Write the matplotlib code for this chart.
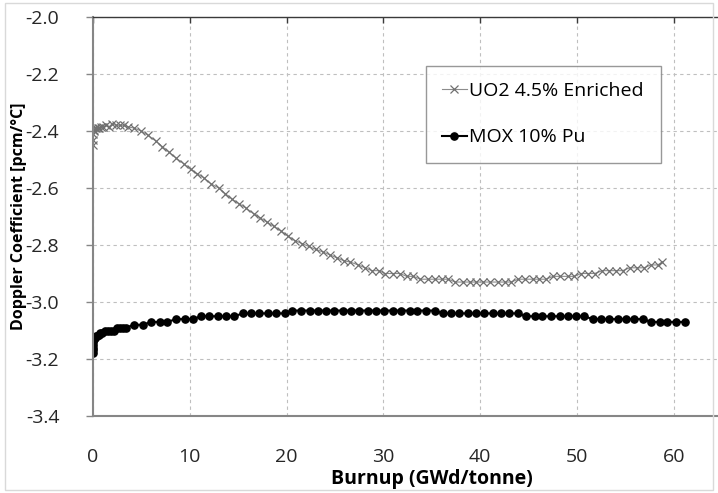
import matplotlib
matplotlib.use("Agg")
import matplotlib.pyplot as plt
from matplotlib.patches import Rectangle

# burnup (GWd/tonne) and Doppler coefficient (pcm/C)
uo2_burnup = [0, 0.02, 0.05, 0.1, 0.15, 0.25, 0.35, 0.5, 0.7, 0.9, 1.1, 1.4, 1.7, 2.0,
              2.4, 2.8, 3.2, 3.6, 4.3, 5.0, 5.7, 6.5, 7.2, 7.9, 8.6, 9.4, 10.1, 10.8,
              11.5, 12.2, 13.0, 13.7, 14.4, 15.1, 15.8, 16.6, 17.3, 18.0, 18.7, 19.4,
              20.2, 20.9, 21.6, 22.3, 23.0, 23.8, 24.5, 25.2, 25.9, 26.6, 27.4, 28.1,
              28.8, 29.5, 30.2, 31.0, 31.7, 32.4, 33.1, 33.8, 34.6, 35.3, 36.0, 36.7,
              37.4, 38.2, 38.9, 39.6, 40.3, 41.0, 41.8, 42.5, 43.2, 43.9, 44.6, 45.4,
              46.1, 46.8, 47.5, 48.2, 49.0, 49.7, 50.4, 51.1, 51.8, 52.6, 53.3, 54.0,
              54.7, 55.4, 56.2, 56.9, 57.6, 58.3, 58.8]
uo2_doppler = [-2.45, -2.43, -2.41, -2.40, -2.395, -2.39, -2.39, -2.39, -2.39, -2.385,
               -2.385, -2.38, -2.385, -2.375, -2.38, -2.38, -2.38, -2.385, -2.39, -2.40,
               -2.415, -2.435, -2.455, -2.475, -2.495, -2.515, -2.535, -2.55, -2.565,
               -2.585, -2.60, -2.62, -2.64, -2.655, -2.67, -2.69, -2.705, -2.72, -2.735,
               -2.75, -2.77, -2.785, -2.795, -2.805, -2.815, -2.825, -2.835, -2.845,
               -2.855, -2.86, -2.87, -2.88, -2.89, -2.89, -2.90, -2.90, -2.90, -2.91,
               -2.91, -2.92, -2.92, -2.92, -2.92, -2.92, -2.93, -2.93, -2.93, -2.93,
               -2.93, -2.93, -2.93, -2.93, -2.93, -2.92, -2.92, -2.92, -2.92, -2.92,
               -2.91, -2.91, -2.91, -2.91, -2.90, -2.90, -2.90, -2.89, -2.89, -2.89,
               -2.89, -2.88, -2.88, -2.88, -2.87, -2.87, -2.86]

mox_burnup = [0, 0.01, 0.03, 0.05, 0.08, 0.12, 0.2, 0.3, 0.45, 0.6, 0.8, 1.0, 1.3, 1.6,
              1.9, 2.2, 2.5, 2.8, 3.1, 3.4, 4.3, 5.2, 6.0, 6.9, 7.7, 8.6, 9.5, 10.3,
              11.2, 12.0, 12.9, 13.8, 14.6, 15.5, 16.3, 17.2, 18.1, 18.9, 19.8, 20.6,
              21.5, 22.4, 23.2, 24.1, 24.9, 25.8, 26.7, 27.5, 28.4, 29.2, 30.1, 31.0,
              31.8, 32.7, 33.5, 34.4, 35.3, 36.1, 37.0, 37.8, 38.7, 39.6, 40.4, 41.3,
              42.1, 43.0, 43.9, 44.7, 45.6, 46.4, 47.3, 48.2, 49.0, 49.9, 50.7, 51.6,
              52.5, 53.3, 54.2, 55.0, 55.9, 56.8, 57.6, 58.5, 59.3, 60.2, 61.1]
mox_doppler = [-3.18, -3.17, -3.16, -3.15, -3.14, -3.13, -3.125, -3.12, -3.12, -3.115,
               -3.11, -3.11, -3.10, -3.10, -3.10, -3.10, -3.09, -3.09, -3.09, -3.09,
               -3.08, -3.08, -3.07, -3.07, -3.07, -3.06, -3.06, -3.06, -3.05, -3.05,
               -3.05, -3.05, -3.05, -3.04, -3.04, -3.04, -3.04, -3.04, -3.04, -3.03,
               -3.03, -3.03, -3.03, -3.03, -3.03, -3.03, -3.03, -3.03, -3.03, -3.03,
               -3.03, -3.03, -3.03, -3.03, -3.03, -3.03, -3.03, -3.04, -3.04, -3.04,
               -3.04, -3.04, -3.04, -3.04, -3.04, -3.04, -3.04, -3.05, -3.05, -3.05,
               -3.05, -3.05, -3.05, -3.05, -3.05, -3.06, -3.06, -3.06, -3.06, -3.06,
               -3.06, -3.06, -3.07, -3.07, -3.07, -3.07, -3.07]

x_ticks = [0, 10, 20, 30, 40, 50, 60, 70]
x_labels = ['0', '10', '20', '30', '40', '50', '60', '']  # 70 falls off the picture
y_ticks = [-3.4, -3.2, -3.0, -2.8, -2.6, -2.4, -2.2, -2.0]

plt.rcParams['font.family'] = ['Open Sans', 'DejaVu Sans']

fig = plt.figure(figsize=(7.18, 4.93), dpi=100)
# light border of the chart area
fig.patches.append(Rectangle((5 / 718, 3 / 493), 708 / 718, 487 / 493,
                             transform=fig.transFigure, fill=False,
                             edgecolor='#d9d9d9', linewidth=1))

# plot area runs off the right edge like in the original picture
ax = fig.add_axes([92.7 / 718, 77 / 493, 678.3 / 718, 399 / 493])

ax.plot(uo2_burnup, uo2_doppler, color='#8c8c8c', linewidth=0.8, marker='x',
        markersize=6, markeredgewidth=0.9, markeredgecolor='#707070',
        label='UO2 4.5% Enriched')
ax.plot(mox_burnup, mox_doppler, color='black', linewidth=1.5, marker='o',
        markersize=5.2, label='MOX 10% Pu')

ax.set_xlim(0, 70)
ax.set_ylim(-3.4, -2.0)
ax.set_xticks(x_ticks)
ax.set_xticklabels(x_labels)
ax.set_yticks(y_ticks)
ax.set_yticklabels(['%.1f' % v for v in y_ticks])

ax.grid(True, color='#bfbfbf', linestyle=(0, (3, 3)), linewidth=0.8)
ax.set_axisbelow(True)

for s in ['left', 'bottom']:
    ax.spines[s].set_color('#868686')
    ax.spines[s].set_linewidth(1.5)
ax.spines['top'].set_color('#3a3a3a')
ax.spines['top'].set_linewidth(1)
ax.spines['right'].set_visible(False)

ax.tick_params(axis='y', length=5, width=1, color='#868686', labelsize=14,
               pad=19, labelcolor='#262626')
ax.tick_params(axis='x', top=True, direction='in', length=4, width=1,
               color='#3a3a3a', labelsize=14, pad=23, labelcolor='#262626')
for t in ax.xaxis.get_major_ticks():
    t.tick1line.set_visible(False)

ax.set_xlabel('Burnup (GWd/tonne)', fontsize=14, fontweight='bold', labelpad=2)
ax.set_ylabel('Doppler Coefficient [pcm/°C]', fontsize=11.5, fontweight='bold')
ax.yaxis.set_label_coords((27 - 92.7) / 678.3, 0.5)

leg = ax.legend(loc='upper left', bbox_to_anchor=((425.7 - 92.7) / 678.3, (416 - 65.7) / 399),
                frameon=True, fancybox=False, fontsize=14, handlelength=1.25,
                handletextpad=0.15, labelspacing=1.45, borderpad=0.85,
                borderaxespad=0)
leg.get_frame().set_edgecolor('#7f7f7f')
leg.get_frame().set_linewidth(1)

fig.savefig('out.png', dpi=100)
